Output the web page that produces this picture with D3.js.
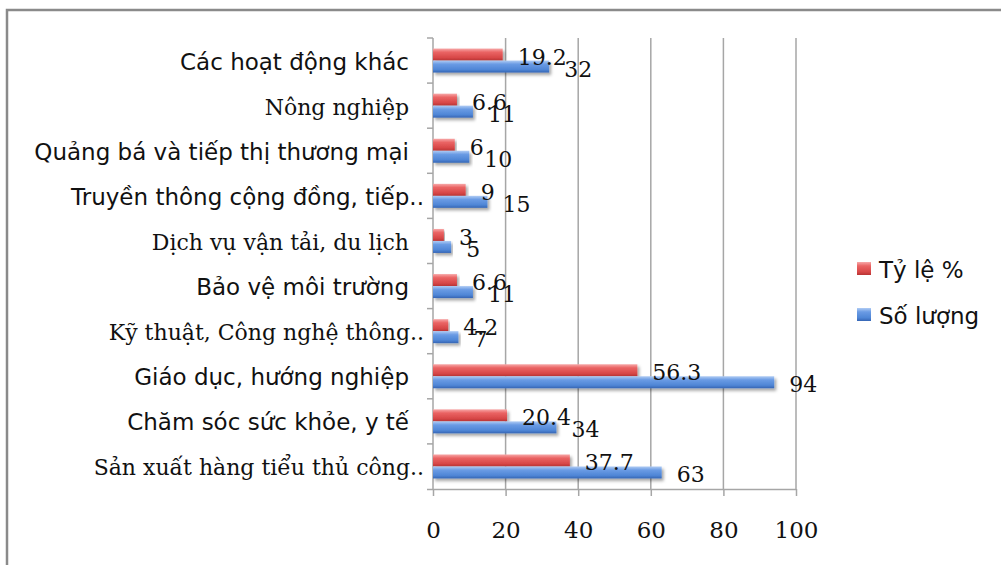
<!DOCTYPE html>
<html>
<head>
<meta charset="utf-8">
<script src="https://cdn.jsdelivr.net/npm/d3@7"></script>
<style>
  body { margin: 0; background: #fff; }
  svg { display: block; }
</style>
</head>
<body>
<div id="chart"></div>
<script>
// categories top -> bottom
const categories = [
  "Các hoạt động khác",
  "Nông nghiệp",
  "Quảng bá và tiếp thị thương mại",
  "Truyền thông cộng đồng, tiếp..",
  "Dịch vụ vận tải, du lịch",
  "Bảo vệ môi trường",
  "Kỹ thuật, Công nghệ thông..",
  "Giáo dục, hướng nghiệp",
  "Chăm sóc sức khỏe, y tế",
  "Sản xuất hàng tiểu thủ công.."
];
const tyLe = [19.2, 6.6, 6, 9, 3, 6.6, 4.2, 56.3, 20.4, 37.7];
const soLuong = [32, 11, 10, 15, 5, 11, 7, 94, 34, 63];
const seriesNames = ["Tỷ lệ %", "Số lượng"];
const xTicks = [0, 20, 40, 60, 80, 100];

// labels that got rendered in a serif fallback font in the original
const serifLabels = new Set(["Nông nghiệp", "Dịch vụ vận tải, du lịch",
  "Kỹ thuật, Công nghệ thông..", "Sản xuất hàng tiểu thủ công.."]);

const width = 1001, height = 565;
const margin = { top: 38, right: 205, bottom: 76, left: 433 };
const sans = "'DejaVu Sans', sans-serif", serif = "'DejaVu Serif', serif";

const data = categories.map((c, i) => ({ cat: c, vals: [tyLe[i], soLuong[i]] }));

const svg = d3.select("#chart").append("svg")
  .attr("width", width).attr("height", height);

const defs = svg.append("defs");
const grads = [
  ["gRed", ["#f7a8a8", "#ea6464", "#d84848", "#b93434"]],
  ["gBlue", ["#b0ccf4", "#6a9be4", "#4f86d6", "#3565b4"]]
];
for (const [id, cols] of grads) {
  const g = defs.append("linearGradient").attr("id", id)
    .attr("x1", 0).attr("y1", 0).attr("x2", 0).attr("y2", 1);
  g.selectAll("stop").data(cols).join("stop")
    .attr("offset", (d, i) => [0, 0.3, 0.75, 1][i])
    .attr("stop-color", d => d);
}
defs.append("filter").attr("id", "shadow")
  .attr("x", "-5%").attr("y", "-40%").attr("width", "115%").attr("height", "200%")
  .append("feDropShadow")
  .attr("dx", 2).attr("dy", 2.5).attr("stdDeviation", 1.5)
  .attr("flood-color", "#000").attr("flood-opacity", 0.35);

// frame
svg.append("rect")
  .attr("x", 7).attr("y", 10).attr("width", 1100).attr("height", 700)
  .attr("fill", "none").attr("stroke", "#8a8a8a").attr("stroke-width", 2.5);

const x = d3.scaleLinear().domain([0, 100])
  .range([margin.left, 796]);

const y = d3.scaleBand().domain(categories)
  .range([margin.top, height - margin.bottom]);

const ySub = d3.scaleBand().domain(seriesNames)
  .range([0, y.bandwidth()]).paddingOuter(0.88);

// gridlines
svg.append("g")
  .selectAll("line").data(xTicks.slice(1)).join("line")
  .attr("x1", d => x(d)).attr("x2", d => x(d))
  .attr("y1", y.range()[0]).attr("y2", y.range()[1])
  .attr("stroke", "#a6a6a6").attr("stroke-width", 1.5);

// x axis
const xAxis = svg.append("g")
  .attr("transform", `translate(0,${y.range()[1]})`)
  .call(d3.axisBottom(x).tickValues(xTicks).tickSize(7).tickSizeOuter(0));
xAxis.select(".domain").attr("stroke", "#a6a6a6").attr("stroke-width", 1.5)
  .attr("d", `M${x(0) - 6},0.5H${x(100)}`);
xAxis.selectAll(".tick line").attr("stroke", "#a6a6a6").attr("stroke-width", 1.5);
xAxis.selectAll(".tick text")
  .attr("font-family", serif).attr("font-size", 23).attr("fill", "#111")
  .attr("y", 49).attr("dy", 0);

// y axis (tick marks at band boundaries)
const yAxis = svg.append("g");
yAxis.append("line")
  .attr("x1", x(0)).attr("x2", x(0))
  .attr("y1", y.range()[0]).attr("y2", y.range()[1])
  .attr("stroke", "#a6a6a6").attr("stroke-width", 1.5);
yAxis.selectAll("line.tk").data(categories).join("line").attr("class", "tk")
  .attr("x1", x(0) - 6).attr("x2", x(0))
  .attr("y1", d => y(d)).attr("y2", d => y(d))
  .attr("stroke", "#a6a6a6").attr("stroke-width", 1.5);

yAxis.selectAll("text").data(categories).join("text")
  .attr("x", d => x(0) - (d.endsWith("..") ? 9 : 24))
  .attr("y", d => y(d) + y.bandwidth() / 2 + 9)
  .attr("text-anchor", "end")
  .attr("font-family", d => serifLabels.has(d) ? serif : sans)
  .attr("font-size", d => serifLabels.has(d) ? 22 : 23)
  .attr("fill", "#111")
  .text(d => d);

// bars
const fills = ["url(#gRed)", "url(#gBlue)"];
const rows = svg.append("g").selectAll("g").data(data).join("g")
  .attr("transform", d => `translate(0,${y(d.cat)})`);

rows.selectAll("rect")
  .data(d => d.vals.map((v, i) => ({ v, s: seriesNames[i], i })))
  .join("rect")
  .attr("x", x(0))
  .attr("y", d => ySub(d.s))
  .attr("width", d => x(d.v) - x(0))
  .attr("height", ySub.bandwidth())
  .attr("fill", d => fills[d.i])
  .attr("filter", "url(#shadow)");

rows.selectAll("text")
  .data(d => d.vals.map((v, i) => ({ v, s: seriesNames[i], i })))
  .join("text")
  .attr("x", d => x(d.v) + 15)
  .attr("y", d => ySub(d.s) + ySub.bandwidth() / 2 + 10)
  .attr("font-family", serif).attr("font-size", 22).attr("fill", "#111")
  .text(d => d.v);

// legend
const legend = svg.append("g").attr("transform", "translate(857,262)");
const li = legend.selectAll("g").data(seriesNames).join("g")
  .attr("transform", (d, i) => `translate(0,${i * 46})`);
li.append("rect").attr("width", 14).attr("height", 13)
  .attr("fill", (d, i) => fills[i]);
li.append("text").attr("x", 22).attr("y", 16)
  .attr("font-family", sans).attr("font-size", 23).attr("fill", "#111")
  .text(d => d);
</script>
</body>
</html>
